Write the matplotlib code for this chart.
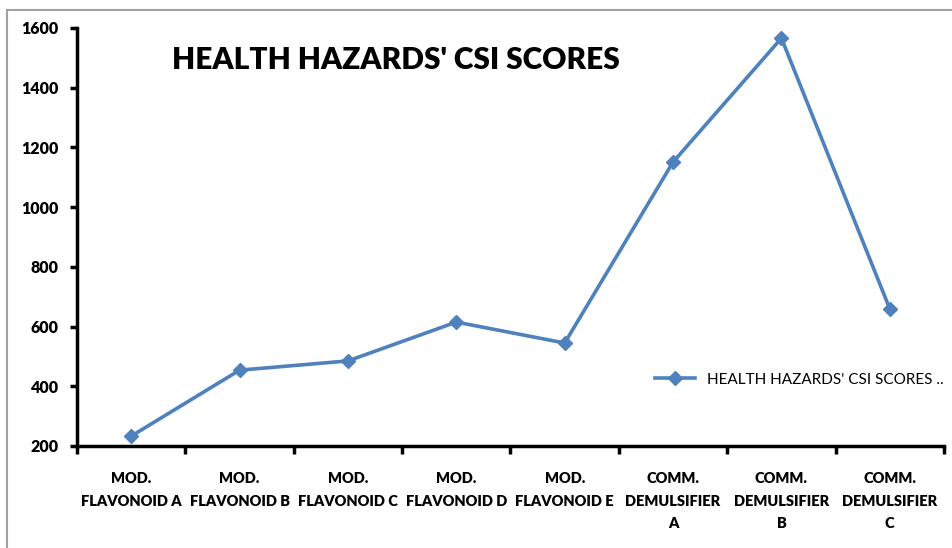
import numpy as np
import matplotlib
matplotlib.use("Agg")
from matplotlib import pyplot as plt
from matplotlib.patches import Rectangle

categories = ["MOD.\nFLAVONOID A", "MOD.\nFLAVONOID B", "MOD.\nFLAVONOID C",
              "MOD.\nFLAVONOID D", "MOD.\nFLAVONOID E", "COMM.\nDEMULSIFIER\nA",
              "COMM.\nDEMULSIFIER\nB", "COMM.\nDEMULSIFIER\nC"]
scores = [233, 454, 485, 615, 545, 1151, 1566, 659]
yticks = [200, 400, 600, 800, 1000, 1200, 1400, 1600]

plt.rcParams['font.family'] = ['Lato', 'DejaVu Sans']

fig = plt.figure(figsize=(9.53, 5.48), dpi=100)
fig.patches.append(Rectangle((7/953, -0.1), 1.2, 1 - 10/548 + 0.1, transform=fig.transFigure,
                             fill=False, edgecolor='#a0a0a0', linewidth=1.5))
ax = fig.add_axes([77/953, 1 - 446/548, (944 - 77)/953, (446 - 28)/548])

x = np.arange(len(categories))
ax.plot(x, scores, color='#4F81BD', linewidth=2.6, marker='D', markersize=7,
        label="HEALTH HAZARDS' CSI SCORES ..")

ax.set_xlim(-0.5, len(categories) - 0.5)
ax.set_ylim(200, 1600)
ax.set_yticks(yticks)
ax.set_yticklabels([str(v) for v in yticks], fontweight='heavy', fontsize=11.5)
ax.set_xticks(np.arange(-0.5, len(categories)), labels=[])
ax.set_xticks(x, minor=True)
ax.set_xticklabels(categories, minor=True, fontweight='heavy', fontsize=10.5, linespacing=1.85)
ax.tick_params(axis='x', which='minor', length=0, pad=19)
ax.tick_params(axis='x', which='major', length=6, width=2.5, direction='out')
ax.tick_params(axis='y', length=5, width=2.5, direction='out', pad=8)

for s in ['top', 'right']:
    ax.spines[s].set_visible(False)
for s in ['left', 'bottom']:
    ax.spines[s].set_linewidth(2.5)

fig.text(172/953, 1 - 60/548, "HEALTH HAZARDS' CSI SCORES", fontsize=21.5, fontweight='heavy',
         va='center', ha='left')

ax.legend(loc='upper left', bbox_to_anchor=(0.66, 0.19), frameon=False, fontsize=11,
          handlelength=2.6, borderaxespad=0)

fig.savefig("out.png", dpi=100)
